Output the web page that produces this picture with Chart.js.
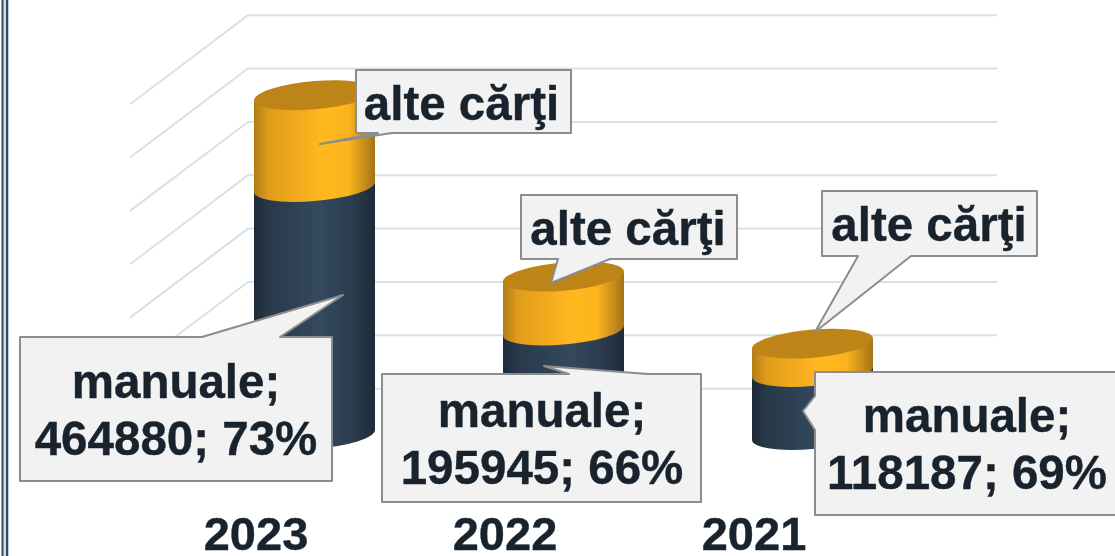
<!DOCTYPE html>
<html>
<head>
<meta charset="utf-8">
<style>
    html, body { margin: 0; padding: 0; background: #fff; overflow: hidden; }
    canvas { display: block; }
</style>
<script src="https://cdn.jsdelivr.net/npm/chart.js@4"></script>
</head>
<body>
<canvas id="chartJS" width="1115" height="556"></canvas>
<script>
const anii = ['2023', '2022', '2021'];
const manuale = [464880, 195945, 118187];
const alteCarti = [172000, 101000, 53100];
const procente = [73, 66, 69];

const numeManuale = 'manuale';
const numeAlte = 'alte cărţi';

const fontFamily = '"Liberation Sans", Arial, sans-serif';
const textColor = '#18232e';

// baloanele de text: caseta, varful si latura pe care sta baza
const baloane = [
    { serie: 1, an: 0, box: [356, 70, 571, 133], tip: [320, 144], side: 'bottom', from: 378, to: 392, cx: 461.5, base: [120] },
    { serie: 1, an: 1, box: [521, 195, 737, 259], tip: [551, 283], side: 'bottom', from: 558, to: 610, cx: 628, base: [245] },
    { serie: 1, an: 2, box: [822, 191, 1037, 256], tip: [815, 332], side: 'bottom', from: 858, to: 911, cx: 929, base: [241] },
    { serie: 0, an: 0, box: [20, 337, 332, 481], tip: [343, 295], side: 'top', from: 202, to: 280, cx: 176, base: [398, 455] },
    { serie: 0, an: 1, box: [382, 374, 701, 502], tip: [544, 366], side: 'top', from: 569, to: 648, cx: 542, base: [427, 484] },
    { serie: 0, an: 2, box: [815, 372, 1117, 515], tip: [803, 411], side: 'left', from: 396, to: 430, cx: 967, base: [432, 489] }
];

// chenarul dublu din stanga
const borderPlugin = {
    id: 'chenar',
    beforeDraw(chart) {
        const ctx = chart.ctx;
        ctx.save();
        ctx.fillStyle = '#d5dce4';
        ctx.fillRect(3, 0, 4, chart.height);
        ctx.fillStyle = '#34495e';
        ctx.fillRect(1.5, 0, 2, chart.height);
        ctx.fillRect(6, 0, 2.3, chart.height);
        ctx.restore();
    }
};

// liniile de fundal, cu efectul 3D
const gridPlugin = {
    id: 'grid3d',
    beforeDatasetsDraw(chart) {
        const ctx = chart.ctx;
        const y = chart.scales.y;
        ctx.save();
        ctx.strokeStyle = '#d6e1e9';
        ctx.lineWidth = 2;
        y.ticks.forEach(t => {
            if (t.value === 0) return;
            const py = y.getPixelForValue(t.value) + 7;
            ctx.beginPath();
            ctx.moveTo(130, py + 89);
            ctx.lineTo(248, py);
            ctx.lineTo(997, py);
            ctx.stroke();
        });
        ctx.restore();
    }
};

function sideGradient(ctx, left, right, stops) {
    const g = ctx.createLinearGradient(left, 0, right, 0);
    stops.forEach(s => g.addColorStop(s[0], s[1]));
    return g;
}

const navyStops = [[0, '#1d2a37'], [0.12, '#28394a'], [0.55, '#34495e'], [0.8, '#2b3d4f'], [1, '#1e2b38']];
const orangeStops = [[0, '#b07c16'], [0.12, '#e09c1c'], [0.4, '#f5ad1e'], [0.55, '#ffb81e'], [0.78, '#fdb51e'], [1, '#a47317']];

function drawCylinders(chart, index) {
    const ctx = chart.ctx;
    const stops = index === 0 ? navyStops : orangeStops;
    chart.getDatasetMeta(index).data.forEach(bar => {
        const r = bar.width / 2;
        const b = 14.1;
        ctx.save();
        ctx.transform(1, -5 / r, 0, 1, bar.x, 0);
        ctx.beginPath();
        ctx.moveTo(-r, bar.y);
        ctx.lineTo(-r, bar.base);
        ctx.ellipse(0, bar.base, r, b, 0, Math.PI, 0, true);
        ctx.lineTo(r, bar.y);
        ctx.closePath();
        ctx.clip();
        // gradientul e pe orizontala, in coordonate de pagina
        ctx.setTransform(1, 0, 0, 1, 0, 0);
        ctx.fillStyle = sideGradient(ctx, bar.x - r, bar.x + r, stops);
        ctx.fillRect(bar.x - r - 2, 0, bar.width + 4, chart.height);
        ctx.restore();
        if (index === 1) {
            ctx.save();
            ctx.transform(1, -5 / r, 0, 1, bar.x, 0);
            ctx.fillStyle = '#bd8517';
            ctx.beginPath();
            ctx.ellipse(0, bar.y, r, b, 0, 0, Math.PI * 2);
            ctx.fill();
            ctx.restore();
        }
    });
}

// fiecare bara e desenata ca un cilindru, din elementele calculate de Chart.js
const cylinderPlugin = {
    id: 'cilindri',
    beforeDatasetDraw() {
        return false; // dreptunghiurile implicite nu se mai deseneaza
    },
    afterDatasetsDraw(chart) {
        drawCylinders(chart, 0);
        drawCylinders(chart, 1);
    }
};

function balloonPath(ctx, c) {
    const [x0, y0, x1, y1] = c.box;
    ctx.beginPath();
    ctx.moveTo(x0, y0);
    if (c.side === 'top') {
        ctx.lineTo(c.from, y0);
        ctx.lineTo(c.tip[0], c.tip[1]);
        ctx.lineTo(c.to, y0);
    }
    ctx.lineTo(x1, y0);
    ctx.lineTo(x1, y1);
    if (c.side === 'bottom') {
        ctx.lineTo(c.to, y1);
        ctx.lineTo(c.tip[0], c.tip[1]);
        ctx.lineTo(c.from, y1);
    }
    ctx.lineTo(x0, y1);
    if (c.side === 'left') {
        ctx.lineTo(x0, c.to);
        ctx.lineTo(c.tip[0], c.tip[1]);
        ctx.lineTo(x0, c.from);
    }
    ctx.closePath();
}

const balloonPlugin = {
    id: 'baloane',
    afterDatasetsDraw(chart) {
        const ctx = chart.ctx;
        ctx.save();
        baloane.forEach(c => {
            balloonPath(ctx, c);
            ctx.fillStyle = '#f2f2f2';
            ctx.fill();
            ctx.strokeStyle = '#8c8c8c';
            ctx.lineWidth = 2;
            ctx.lineJoin = 'round';
            ctx.stroke();

            const lines = c.serie === 1
                ? [numeAlte]
                : [numeManuale + ';', manuale[c.an] + '; ' + procente[c.an] + '%'];
            ctx.fillStyle = textColor;
            ctx.strokeStyle = textColor;
            ctx.lineWidth = 0.4;
            ctx.font = 'bold 47.5px ' + fontFamily;
            ctx.textAlign = 'center';
            ctx.textBaseline = 'alphabetic';
            lines.forEach((text, i) => {
                ctx.fillText(text, c.cx, c.base[i]);
                ctx.strokeText(text, c.cx, c.base[i]);
            });
        });
        ctx.restore();
    }
};

const data = {
    labels: anii,
    datasets: [{
        label: numeManuale,
        data: manuale,
        backgroundColor: '#34495e',
        barThickness: 121
    },
    {
        label: numeAlte,
        data: alteCarti,
        backgroundColor: '#ffb81e',
        barThickness: 121
    }]
};

const config = {
    type: 'bar',
    data: data,
    options: {
        responsive: false,
        animation: false,
        layout: {
            padding: { left: 190, right: 178, top: 8.2, bottom: 0 }
        },
        plugins: {
            legend: { display: false },
            tooltip: { enabled: false }
        },
        scales: {
            x: {
                stacked: true,
                grid: { display: false },
                border: { display: false },
                afterFit(scale) { scale.height = 121; },
                ticks: {
                    color: textColor,
                    textStrokeColor: textColor,
                    textStrokeWidth: 0.4,
                    font: { family: fontFamily, size: 47, weight: 'bold' },
                    labelOffset: -58.5,
                    padding: 66,
                    maxRotation: 0,
                    autoSkip: false
                }
            },
            y: {
                display: false,
                stacked: true,
                min: 0,
                max: 800000,
                ticks: { stepSize: 100000 }
            }
        }
    },
    plugins: [borderPlugin, gridPlugin, cylinderPlugin, balloonPlugin]
};

const myChart = new Chart(document.getElementById('chartJS'), config);
</script>
</body>
</html>
